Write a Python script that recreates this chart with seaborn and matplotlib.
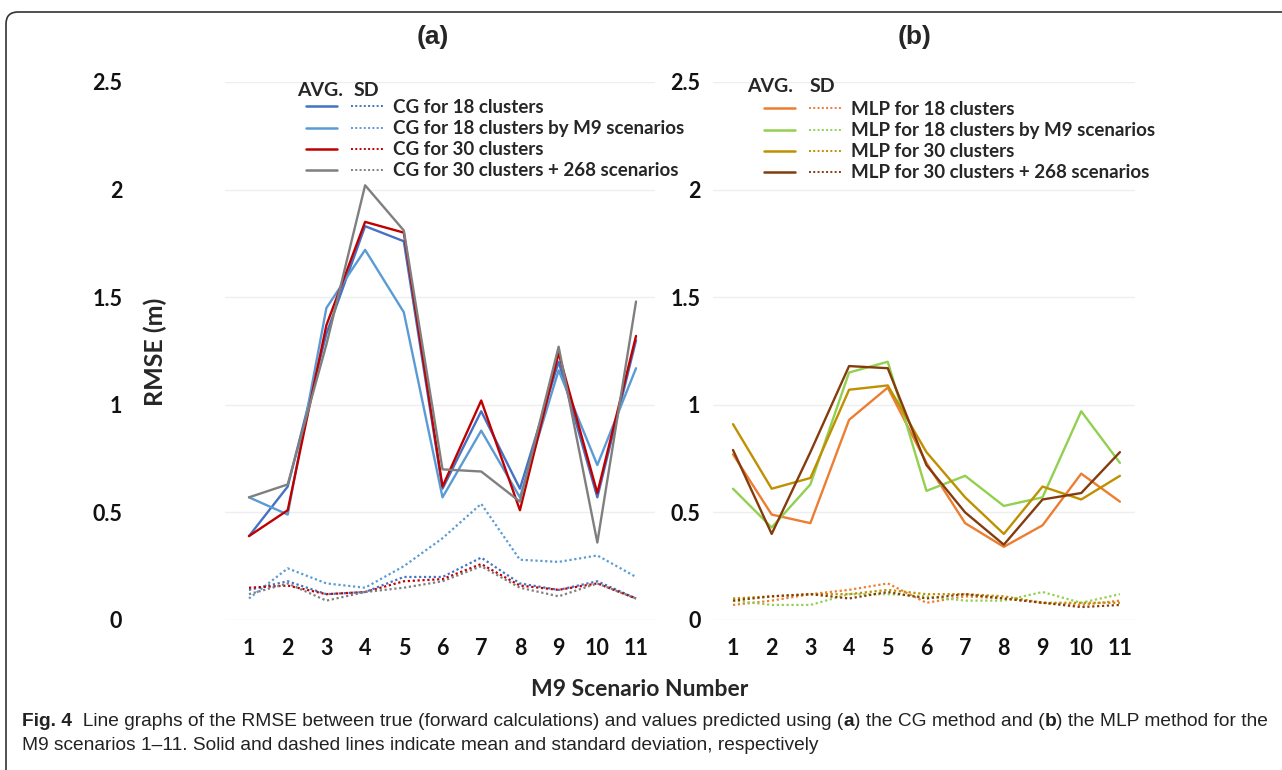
import matplotlib
matplotlib.use('Agg')
import matplotlib.pyplot as plt
import matplotlib.transforms as mtransforms
import seaborn as sns
import pandas as pd
from matplotlib.lines import Line2D
from matplotlib.legend_handler import HandlerTuple
from matplotlib.patches import FancyBboxPatch

# ---------------- data ----------------
scenarios = list(range(1, 12))
x_tick_labels = [str(s) for s in scenarios]
y_ticks = [0, 0.5, 1, 1.5, 2, 2.5]
y_tick_labels = ['0', '0.5', '1', '1.5', '2', '2.5']

cg_labels = ['CG for 18 clusters', 'CG for 18 clusters by M9 scenarios',
             'CG for 30 clusters', 'CG for 30 clusters + 268 scenarios']
cg_colors = ['#4472C4', '#5B9BD5', '#C00000', '#7F7F7F']

cg18_avg = [0.39, 0.62, 1.33, 1.83, 1.76, 0.61, 0.97, 0.61, 1.20, 0.57, 1.30]
cg18m9_avg = [0.57, 0.49, 1.45, 1.72, 1.43, 0.57, 0.88, 0.57, 1.16, 0.72, 1.17]
cg30_avg = [0.39, 0.51, 1.37, 1.85, 1.80, 0.62, 1.02, 0.51, 1.24, 0.59, 1.32]
cg30x_avg = [0.57, 0.63, 1.28, 2.02, 1.81, 0.70, 0.69, 0.55, 1.27, 0.36, 1.48]

cg18_sd = [0.14, 0.18, 0.12, 0.13, 0.20, 0.20, 0.29, 0.17, 0.14, 0.18, 0.10]
cg18m9_sd = [0.10, 0.24, 0.17, 0.15, 0.25, 0.38, 0.54, 0.28, 0.27, 0.30, 0.20]
cg30_sd = [0.15, 0.16, 0.12, 0.13, 0.18, 0.19, 0.26, 0.16, 0.14, 0.17, 0.10]
cg30x_sd = [0.12, 0.17, 0.09, 0.13, 0.15, 0.18, 0.25, 0.15, 0.11, 0.17, 0.10]

mlp_labels = ['MLP for 18 clusters', 'MLP for 18 clusters by M9 scenarios',
              'MLP for 30 clusters', 'MLP for 30 clusters + 268 scenarios']
mlp_colors = ['#ED7D31', '#92D050', '#BF9000', '#843C0C']

mlp18_avg = [0.77, 0.49, 0.45, 0.93, 1.08, 0.73, 0.45, 0.34, 0.44, 0.68, 0.55]
mlp18m9_avg = [0.61, 0.43, 0.63, 1.15, 1.20, 0.60, 0.67, 0.53, 0.57, 0.97, 0.73]
mlp30_avg = [0.91, 0.61, 0.66, 1.07, 1.09, 0.78, 0.57, 0.40, 0.62, 0.56, 0.67]
mlp30x_avg = [0.79, 0.40, 0.78, 1.18, 1.17, 0.72, 0.50, 0.35, 0.56, 0.59, 0.78]

mlp18_sd = [0.07, 0.09, 0.12, 0.14, 0.17, 0.08, 0.11, 0.10, 0.08, 0.07, 0.09]
mlp18m9_sd = [0.09, 0.07, 0.07, 0.12, 0.12, 0.11, 0.09, 0.09, 0.13, 0.08, 0.12]
mlp30_sd = [0.10, 0.11, 0.12, 0.12, 0.14, 0.12, 0.12, 0.11, 0.08, 0.08, 0.08]
mlp30x_sd = [0.09, 0.11, 0.12, 0.10, 0.13, 0.10, 0.12, 0.10, 0.08, 0.06, 0.07]

cg_avg = [cg18_avg, cg18m9_avg, cg30_avg, cg30x_avg]
cg_sd = [cg18_sd, cg18m9_sd, cg30_sd, cg30x_sd]
mlp_avg = [mlp18_avg, mlp18m9_avg, mlp30_avg, mlp30x_avg]
mlp_sd = [mlp18_sd, mlp18m9_sd, mlp30_sd, mlp30x_sd]

# ---------------- style ----------------
sns.set_theme(style='white')
plt.rcParams['font.family'] = ['Lato', 'DejaVu Sans']

W, H = 1282, 770
fig = plt.figure(figsize=(W / 100, H / 100), dpi=100)
fig.patch.set_facecolor('white')


def fx(px):
    return px / W


def fy(py):
    return 1 - py / H


ax_a = fig.add_axes([fx(225), fy(620), (655 - 225) / W, (620 - 82) / H])
ax_b = fig.add_axes([fx(713), fy(620), (1135 - 713) / W, (620 - 82) / H])

DOT = (0, (1, 1.2))


def draw_panel(ax, avgs, sds, colors, labels):
    for sd, c in zip(sds, colors):
        df = pd.DataFrame({'x': scenarios, 'y': sd})
        sns.lineplot(data=df, x='x', y='y', ax=ax, color=c, linewidth=1.6,
                     linestyle=DOT, legend=False)
    for avg, c in zip(avgs, colors):
        df = pd.DataFrame({'x': scenarios, 'y': avg})
        sns.lineplot(data=df, x='x', y='y', ax=ax, color=c, linewidth=1.7,
                     legend=False)
    ax.set_ylim(0, 2.5)
    ax.set_yticks(y_ticks)
    ax.set_xticks(scenarios)
    ax.set_xticklabels(x_tick_labels, fontsize=15.5, fontweight='bold')
    ax.set_yticklabels(y_tick_labels, fontsize=15.5, fontweight='bold')
    ax.set_xlabel('')
    ax.set_ylabel('')
    ax.grid(axis='y', color='#eeeeee', linewidth=1.0)
    ax.grid(axis='x', visible=False)
    ax.set_axisbelow(True)
    sns.despine(ax=ax, left=True, bottom=True)
    ax.tick_params(axis='both', length=0, colors='#111111')
    ax.tick_params(axis='x', pad=13)
    handles = [(Line2D([], [], color=c, lw=1.8),
                Line2D([], [], color=c, lw=1.4, linestyle=DOT)) for c in colors]
    return handles


h_a = draw_panel(ax_a, cg_avg, cg_sd, cg_colors, cg_labels)
h_b = draw_panel(ax_b, mlp_avg, mlp_sd, mlp_colors, mlp_labels)
ax_a.set_xlim(0.38, 11.49)
ax_b.set_xlim(0.483, 11.39)
ax_a.tick_params(axis='y', pad=74)
ax_b.tick_params(axis='y', pad=9)

leg_kw = dict(frameon=False, prop={'weight': 'bold', 'size': 13.5},
              handler_map={tuple: HandlerTuple(ndivide=None, pad=0.75)},
              handlelength=4.1, handletextpad=0.53, labelspacing=0.22,
              borderpad=0, borderaxespad=0, loc='upper left',
              bbox_transform=fig.transFigure)
ax_a.legend(h_a, cg_labels, bbox_to_anchor=(fx(306), fy(99)), **leg_kw)
ax_b.legend(h_b, mlp_labels, bbox_to_anchor=(fx(764), fy(101)), **leg_kw)

for xa, xs, yh in [(320, 366, 91), (770, 822, 87)]:
    fig.text(fx(xa), fy(yh), 'AVG.', ha='center', va='center', fontsize=14, fontweight='bold')
    fig.text(fx(xs), fy(yh), 'SD', ha='center', va='center', fontsize=14, fontweight='bold')

# panel titles
for xt, t in [(433, '(a)'), (915, '(b)')]:
    fig.text(fx(xt), fy(37), t, ha='center', va='center', fontsize=19,
             fontweight='bold', family=['Liberation Sans', 'DejaVu Sans'])

fig.text(fx(155), fy(352), 'RMSE (m)', rotation=90, ha='center', va='center',
         fontsize=18, fontweight='bold')
fig.text(fx(640), fy(690), 'M9 Scenario Number', ha='center', va='center',
         fontsize=16.5, fontweight='bold')

# caption with mixed weights
cap_family = ['Liberation Sans Narrow', 'Liberation Sans', 'DejaVu Sans']
renderer = fig.canvas.get_renderer()


def rich(x_px, y_px, pieces, fs):
    x = x_px
    arts = []
    for txt, bold in pieces:
        t = fig.text(fx(x), fy(y_px), txt, ha='left', va='center', fontsize=fs,
                     fontweight='bold' if bold else 'normal', family=cap_family,
                     color='#222222')
        bb = t.get_window_extent(renderer)
        x += bb.width
        arts.append(t)
    return arts, x - x_px


line1 = [('Fig. 4', True),
         ('  Line graphs of the RMSE between true (forward calculations) and values predicted using (', False),
         ('a', True), (') the CG method and (', False), ('b', True),
         (') the MLP method for the', False)]
line2 = [('M9 scenarios 1\u201311. Solid and dashed lines indicate mean and standard deviation, respectively', False)]

arts, w = rich(22, 721, line1, 12)
for a in arts:
    a.remove()
fs = 12 * (1268 - 22) / w
rich(22, 721, line1, fs)
rich(22, 746, line2, fs)

# frame
frame = FancyBboxPatch((6, -20), 1320, 778, boxstyle='round,pad=0,rounding_size=12',
                       transform=mtransforms.IdentityTransform(), facecolor='none',
                       edgecolor='#333333', linewidth=1.2)
fig.add_artist(frame)

fig.savefig('out.png', dpi=100)
